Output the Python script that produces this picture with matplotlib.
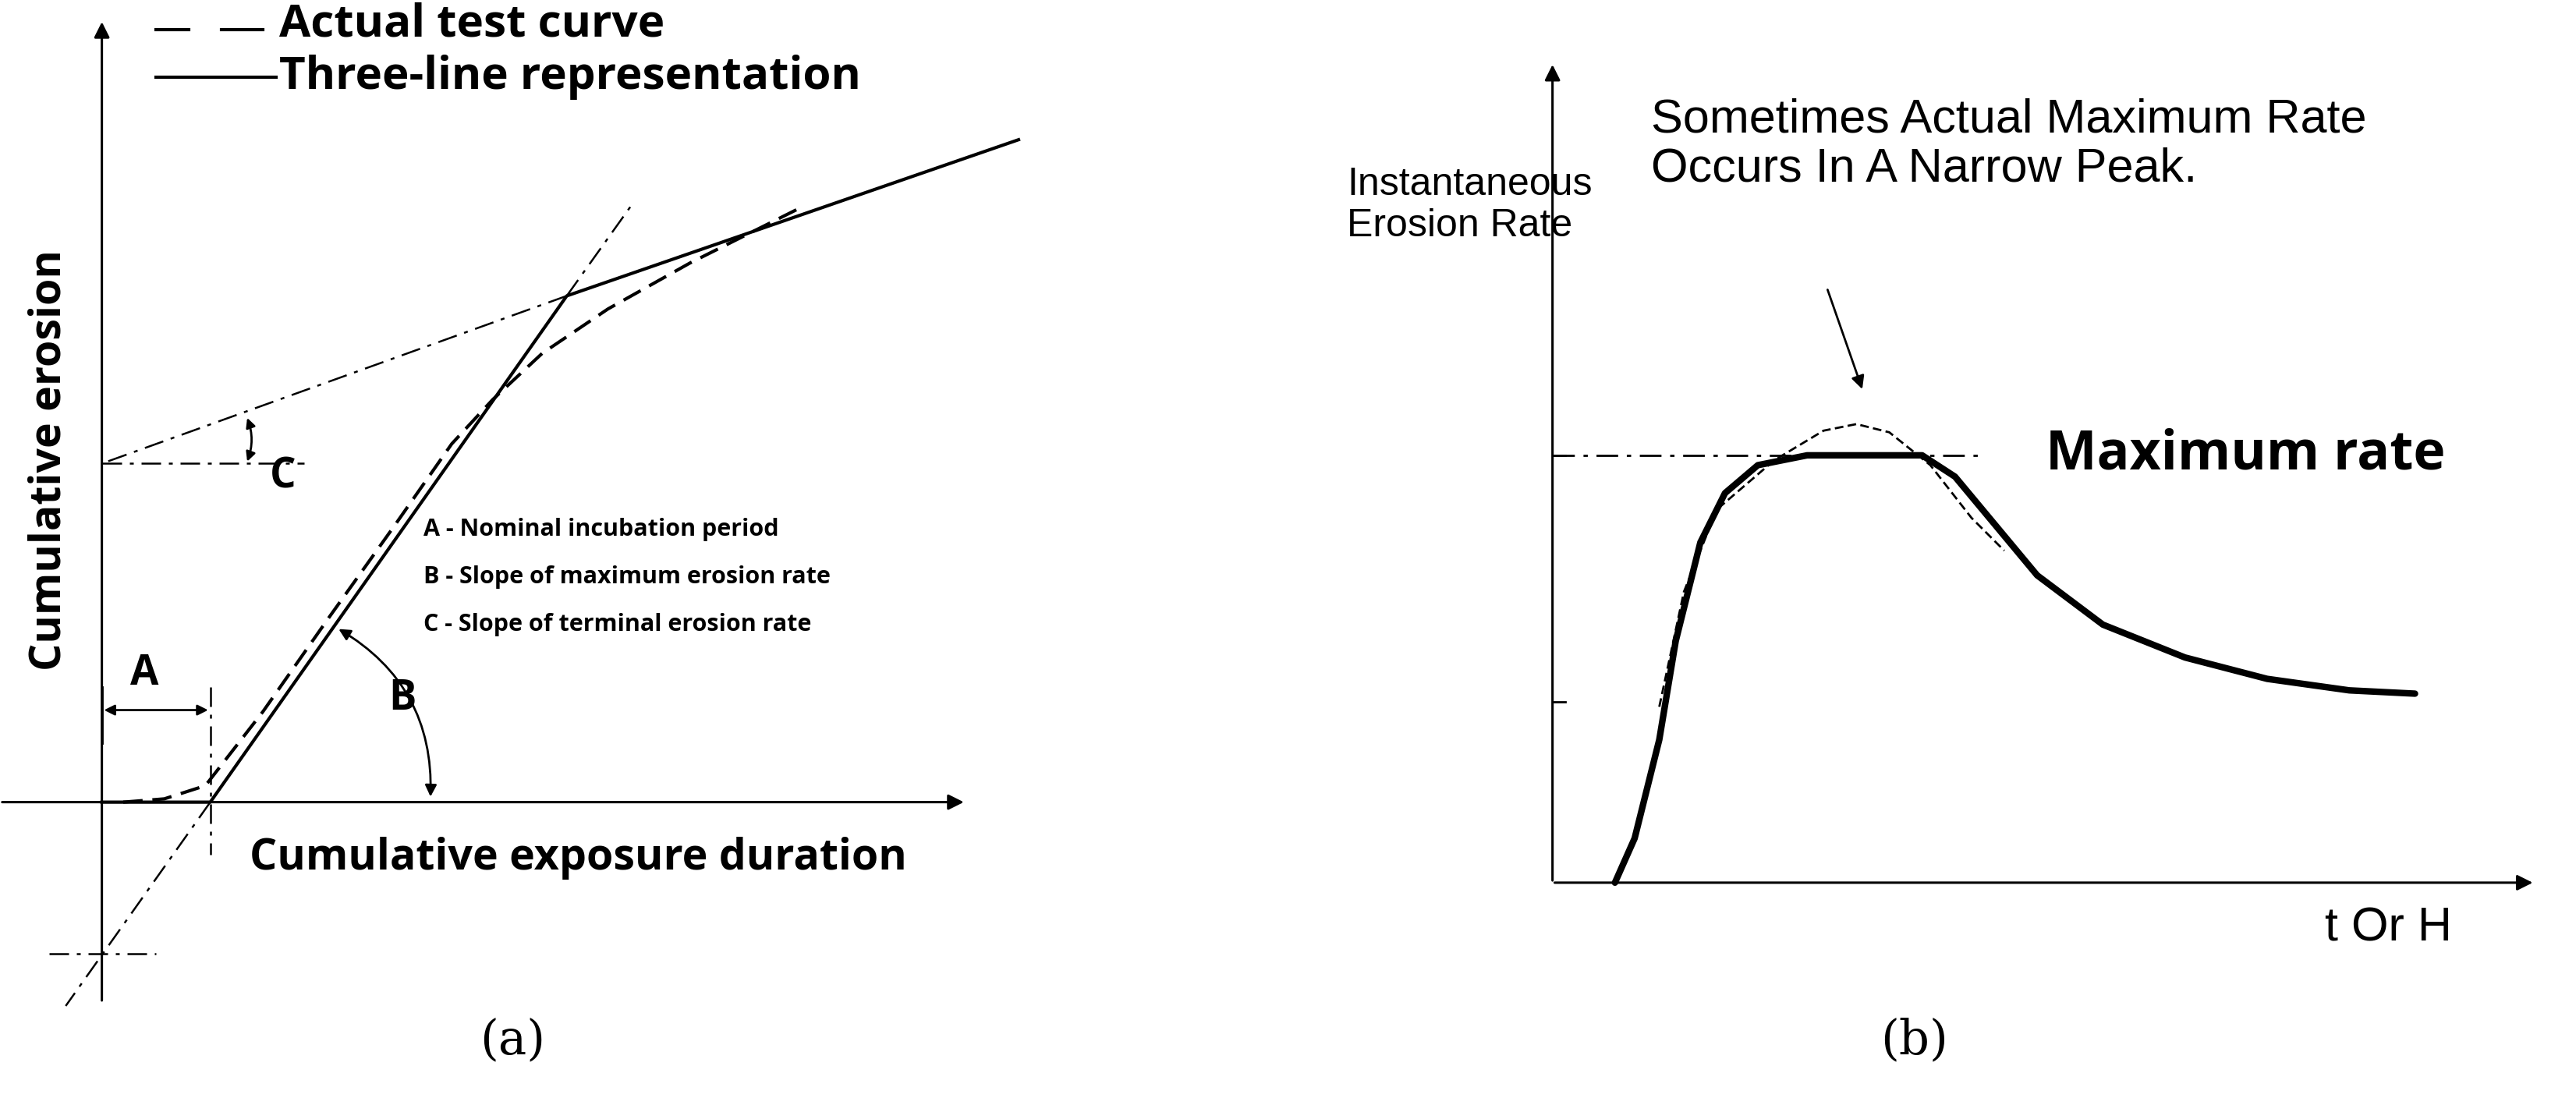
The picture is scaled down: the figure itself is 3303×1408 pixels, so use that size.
import matplotlib
matplotlib.use("Agg")
import matplotlib.pyplot as plt
import numpy as np
from matplotlib.patches import FancyArrowPatch

# ---- data (schematic coordinates, display units 1568 x 668) ----
three_line_x = [62, 128, 345, 620]
three_line_y = [488, 488, 180, 85]
actual_a_x = [75, 100, 125, 160, 200, 240, 275, 300, 330, 370, 420, 490]
actual_a_y = [488, 486, 478, 433, 376, 320, 270, 243, 215, 188, 160, 125]
rate_x = [983, 995, 1010, 1020, 1035, 1050, 1070, 1100, 1170, 1190, 1215, 1240, 1280, 1330, 1380, 1430, 1470]
rate_y = [537, 510, 450, 390, 330, 300, 283, 277, 277, 290, 320, 350, 380, 400, 413, 420, 422]
peak_x = [1010, 1025, 1045, 1080, 1110, 1130, 1150, 1175, 1200, 1220]
peak_y = [430, 360, 310, 280, 262, 258, 263, 283, 315, 335]
notes = ["A - Nominal incubation period", "B - Slope of maximum erosion rate", "C - Slope of terminal erosion rate"]

fig = plt.figure(figsize=(33.03, 14.08), dpi=100)
ax = fig.add_axes([0, 0, 1, 1])
ax.set_xlim(0, 1568); ax.set_ylim(668, 0); ax.axis("off")
k = dict(color="black")
FA = "Open Sans"; FB = "Liberation Sans"

def arrow(x0, y0, x1, y1, lw=2.2, ms=30):
    ax.add_patch(FancyArrowPatch((x0, y0), (x1, y1), arrowstyle="-|>", mutation_scale=ms, lw=lw, color="black"))

# panel a
arrow(62, 610, 62, 12); arrow(0, 488, 588, 488)
ax.plot(three_line_x, three_line_y, lw=3, **k)
ax.plot(actual_a_x, actual_a_y, lw=3, ls=(0, (6, 3)), **k)
dd = (0, (10, 4, 2, 4))
ax.plot([128, 40], [488, 612], lw=1.8, ls=dd, **k)
ax.plot([345, 385], [180, 124], lw=1.8, ls=dd, **k)
ax.plot([345, 62], [180, 282], lw=1.8, ls=dd, **k)
ax.plot([62, 185], [282, 282], lw=1.8, ls=dd, **k)
ax.plot([30, 95], [580, 580], lw=1.8, ls=dd, **k)
ax.plot([128, 128], [418, 520], lw=1.8, ls=dd, **k)
ax.plot([62, 62], [418, 452], lw=2, **k)
ax.add_patch(FancyArrowPatch((62, 432), (128, 432), arrowstyle="<|-|>", mutation_scale=20, lw=2, color="black"))
ax.add_patch(FancyArrowPatch((150, 253), (150, 282), arrowstyle="<|-|>", mutation_scale=18, lw=2, color="black", connectionstyle="arc3,rad=-0.2"))
ax.add_patch(FancyArrowPatch((205, 382), (262, 486), arrowstyle="<|-|>", mutation_scale=22, lw=2, color="black", connectionstyle="arc3,rad=-0.3"))
ax.text(88, 410, "A", fontsize=38, family=FA, weight="bold", ha="center", va="center")
ax.text(245, 425, "B", fontsize=38, family=FA, weight="bold", ha="center", va="center")
ax.text(172, 290, "C", fontsize=38, family=FA, weight="bold", ha="center", va="center")
for i, t in enumerate(notes):
    ax.text(258, 322 + 29 * i, t, fontsize=22, family=FA, weight="bold", va="center")
ax.plot([95, 115], [18, 18], lw=3, **k); ax.plot([135, 160], [18, 18], lw=3, **k)
ax.text(170, 15, "Actual test curve", fontsize=42, family=FA, weight="bold", va="center")
ax.plot([95, 168], [47, 47], lw=3, **k)
ax.text(170, 47, "Three-line representation", fontsize=42, family=FA, weight="bold", va="center")
ax.text(30, 280, "Cumulative erosion", fontsize=40, family=FA, weight="bold", rotation=90, ha="center", va="center")
ax.text(352, 522, "Cumulative exposure duration", fontsize=40, family=FA, weight="bold", ha="center", va="center")
ax.text(312, 633, "(a)", fontsize=44, family="DejaVu Serif", ha="center", va="center")

# panel b
arrow(945, 537, 945, 38); arrow(945, 537, 1543, 537)
for ty in [427, 277]:
    ax.plot([945, 953], [ty, ty], lw=2, **k)
ax.plot([945, 1208], [277, 277], lw=2, ls=dd, **k)
ax.plot(rate_x, rate_y, lw=6, solid_capstyle="round", solid_joinstyle="round", **k)
ax.plot(peak_x, peak_y, lw=2, ls=(0, (4, 2)), **k)
arrow(1112, 175, 1134, 238, lw=2, ms=25)
ax.text(1245, 277, "Maximum rate", fontsize=50, family=FA, weight="bold", va="center")
ax.text(820, 125, "Instantaneous\nErosion Rate", fontsize=36, family=FB, va="center", linespacing=1.2)
ax.text(1005, 88, "Sometimes Actual Maximum Rate\nOccurs In A Narrow Peak.", fontsize=44, family=FB, va="center", linespacing=1.15)
ax.text(1415, 565, "t Or H", fontsize=44, family=FB, va="center")
ax.text(1165, 633, "(b)", fontsize=44, family="DejaVu Serif", ha="center", va="center")

fig.savefig("out.png", dpi=100)
